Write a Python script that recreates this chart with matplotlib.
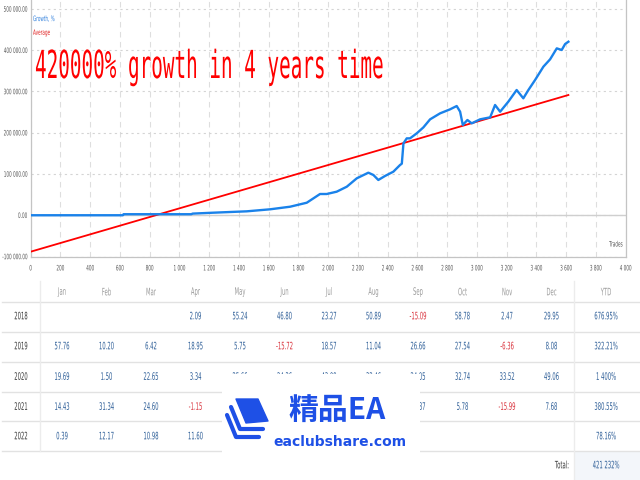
import numpy as np
import matplotlib
matplotlib.use('Agg')
import matplotlib.pyplot as plt
import matplotlib.patheffects as pe
from matplotlib.transforms import Affine2D
from matplotlib.lines import Line2D
from matplotlib.patches import Rectangle, Polygon

# ---- data ----
# growth curve (trades, growth %)
trades = [0, 620, 625, 1080, 1090, 1229, 1453, 1610, 1745, 1857, 1946, 1991, 2058,
          2126, 2193, 2271, 2305, 2338, 2383, 2439, 2484, 2496, 2507, 2529, 2551,
          2596, 2641, 2686, 2753, 2820, 2865, 2888, 2906, 2937, 2966, 3022, 3090,
          3123, 3157, 3212, 3268, 3313, 3347, 3392, 3448, 3493, 3538, 3571, 3594, 3616]
growth = [0, 0, 2500, 2500, 4000, 6200, 9500, 14400, 20700, 30400, 51500, 51500, 57100,
          69200, 89500, 103200, 97600, 85500, 95200, 105600, 121800, 125000, 174300, 186400, 186400,
          198500, 213000, 232500, 247000, 256700, 264800, 251000, 218800, 230900, 222800, 232500, 237400,
          267300, 251000, 275300, 303600, 283500, 303600, 327900, 360200, 378000, 404600, 400600, 415100, 420700]
# average (straight line)
avg_x = [0, 3616]
avg_y = [-88400, 291500]

xticks = list(range(0, 4001, 200))
yticks = list(range(-100000, 500001, 100000))

years = ['2018', '2019', '2020', '2021', '2022']
months = ['Jan', 'Feb', 'Mar', 'Apr', 'May', 'Jun', 'Jul', 'Aug', 'Sep', 'Oct', 'Nov', 'Dec']
# None = empty cell or hidden under the watermark
r2018 = [None, None, None, 2.09, 55.24, 46.80, 23.27, 50.89, -15.09, 58.78, 2.47, 29.95]
r2019 = [57.76, 10.20, 6.42, 18.95, 5.75, -15.72, 18.57, 11.04, 26.66, 27.54, -6.36, 8.08]
r2020 = [19.69, 1.50, 22.65, 3.34, 25.66, 24.36, 43.09, 32.46, 24.05, 32.74, 33.52, 49.06]
r2021 = [14.43, 31.34, 24.60, -1.15, None, None, None, None, 17.87, 5.78, -15.99, 7.68]
r2022 = [0.39, 12.17, 10.98, 11.60, None, None, None, None, None, None, None, None]
ytd = ['676.95%', '322.21%', '1 400%', '380.55%', '78.16%']
total = '421 232%'

W, H = 640, 480
BLUE = '#1a82ea'
VAL = '#2f5f98'
NEG = '#d9303a'
GRID = '#dedede'


class Stretch(pe.AbstractPathEffect):
    # stretch glyphs around the text anchor (the source font is tall and narrow)
    def __init__(self, sx=1.0, sy=1.0, ha='left', va='center'):
        super().__init__()
        self.sx, self.sy, self.ha, self.va = sx, sy, ha, va

    def draw_path(self, renderer, gc, tpath, affine, rgbFace=None):
        box = tpath.get_extents(affine)
        px = {'left': box.x0, 'center': (box.x0 + box.x1) / 2, 'right': box.x1}[self.ha]
        if self.va == 'center':
            py = (box.y0 + box.y1) / 2
        else:
            py = affine.get_matrix()[1, 2]
        t = affine + Affine2D().translate(-px, -py).scale(self.sx, self.sy).translate(px, py)
        renderer.draw_path(gc, tpath, t, rgbFace)


def fx(x):
    return x / W


def fy(y):
    return 1 - y / H


SMALL = 3.0
TALL = 1.8

fig = plt.figure(figsize=(6.4, 4.8), dpi=100, facecolor='white')
ax = fig.add_axes([fx(30.6), fy(256.5), (625.5 - 30.6) / W, 256.5 / H])

ax.plot(avg_x, avg_y, color='#ff0000', lw=1.3, zorder=3)
ax.plot(trades, growth, color=BLUE, lw=1.7, zorder=4, solid_joinstyle='round')
ax.axhline(0, color='#cfcfcf', lw=1.0, zorder=1)

ax.set_xlim(0, 4000)
ax.set_ylim(-100000, -100000 + 256.5 / 41.25 * 100000)
ax.set_xticks(xticks)
ax.set_xticklabels(['{:,}'.format(v).replace(',', ' ') for v in xticks])
ax.set_yticks(yticks)
ax.set_yticklabels(['{:,.2f}'.format(v).replace(',', ' ') for v in yticks])
ax.tick_params(length=0, labelsize=SMALL, labelcolor='#555555')
ax.tick_params(axis='x', pad=7)
ax.tick_params(axis='y', pad=2.5)
ax.xaxis.grid(True, color=GRID, ls=(0, (5, 4)), lw=0.8)
ax.yaxis.grid(True, color='#d4d4d4', ls=(0, (2, 3)), lw=0.8)
ax.set_axisbelow(True)
ax.spines['top'].set_visible(False)
for s in ['left', 'bottom', 'right']:
    ax.spines[s].set_color('#c4c4c4')
    ax.spines[s].set_linewidth(0.9)

for lb in ax.get_xticklabels():
    lb.set_path_effects([Stretch(1.0, TALL, 'center')])
for lb in ax.get_yticklabels():
    lb.set_path_effects([Stretch(1.0, TALL, 'right')])

ax.text(0.995, 0.04, 'Trades', transform=ax.transAxes, ha='right', va='bottom',
        fontsize=SMALL, color='#555555', path_effects=[Stretch(1.0, TALL, 'right')])

# legend
fig.text(fx(33), fy(19), 'Growth, %', fontsize=SMALL, color='#2f7fdc', va='center',
         path_effects=[Stretch(1.0, TALL, 'left')])
fig.text(fx(33), fy(33), 'Average', fontsize=SMALL, color='#e02020', va='center',
         path_effects=[Stretch(1.0, TALL, 'left')])

# big red caption
fig.text(fx(35), fy(78), '420000% growth in 4 years time', fontsize=13.9,
         family='DejaVu Sans Mono', color='#ff0000', va='baseline', ha='left',
         path_effects=[Stretch(1.0, 2.0, 'left', 'baseline')])

# ---- table ----
col_x = [62 + 44.5 * i for i in range(12)]
row_y = [316, 346, 376.5, 406.5, 436]
rows = [r2018, r2019, r2020, r2021, r2022]
TS = 3.8


def cell(x, y, s, color, ha='center'):
    fig.text(fx(x), fy(y), s, fontsize=TS, color=color, ha=ha, va='center',
             path_effects=[Stretch(1.0, 1.95, ha)])


for x, m in zip(col_x, months):
    cell(x, 292, m, '#9a9a9a')
cell(606, 292, 'YTD', '#9a9a9a')

for y, yr, vals, t in zip(row_y, years, rows, ytd):
    cell(21, y, yr, '#3a3a3a')
    for x, v in zip(col_x, vals):
        if v is None:
            continue
        cell(x, y, '{:.2f}'.format(v), NEG if v < 0 else VAL)
    cell(606, y, t, VAL)

fig.add_artist(Rectangle((fx(574), 0), fx(640 - 574), fy(451), transform=fig.transFigure,
                         facecolor='#f3f6fa', edgecolor='none', zorder=0))
cell(569, 465, 'Total:', '#3a3a3a', ha='right')
cell(606, 465, total, VAL)

for y in [302, 332, 362, 391.5, 421, 450.5]:
    fig.add_artist(Line2D([fx(2), fx(640)], [fy(y), fy(y)], color='#e2e2e2', lw=1.0,
                          transform=fig.transFigure))
fig.add_artist(Line2D([fx(40), fx(40)], [fy(281), fy(450.5)], color='#ececec', lw=1.0,
                      transform=fig.transFigure))
fig.add_artist(Line2D([fx(574), fx(574)], [fy(281), fy(480)], color='#ececec', lw=1.0,
                      transform=fig.transFigure))

# ---- watermark overlay ----
fig.add_artist(Rectangle((fx(222), fy(468)), (420 - 222) / W, (468 - 374) / H,
                         transform=fig.transFigure, facecolor='white', edgecolor='none', zorder=20))
WM = '#1e50e6'
fig.add_artist(Polygon([(fx(236), fy(399)), (fx(258), fy(399)), (fx(268), fy(421)), (fx(246), fy(423))],
                       closed=True, transform=fig.transFigure, facecolor=WM, edgecolor=WM,
                       lw=1.0, joinstyle='round', zorder=21))
fig.add_artist(Line2D([fx(231), fx(240), fx(263)], [fy(407), fy(429), fy(429)], color=WM, lw=3.0,
                      transform=fig.transFigure, zorder=21, solid_capstyle='round'))
fig.add_artist(Line2D([fx(227), fx(236), fx(259)], [fy(415), fy(437), fy(437)], color=WM, lw=3.0,
                      transform=fig.transFigure, zorder=21, solid_capstyle='round'))
fig.text(fx(288), fy(411), '精品EA', fontsize=21.5, weight='bold', color=WM, ha='left', va='center',
         family=['Noto Sans CJK SC', 'DejaVu Sans'], zorder=21)
fig.text(fx(273), fy(442), 'eaclubshare.com', fontsize=10, weight='bold', color=WM, ha='left',
         va='center', zorder=21)

fig.savefig('out.png', dpi=100, facecolor='white')
